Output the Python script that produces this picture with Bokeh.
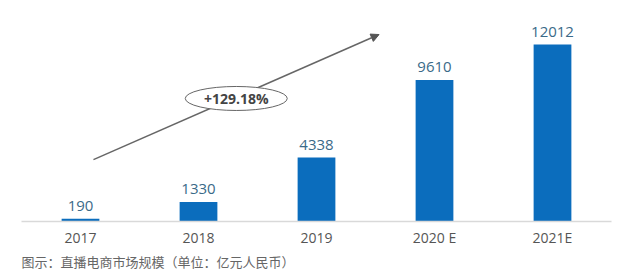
from bokeh.plotting import figure
from bokeh.models import ColumnDataSource, FactorRange, Range1d, Title, Arrow, NormalHead
from bokeh.core.properties import value
from bokeh.embed import file_html
from bokeh.resources import INLINE

categories = ["2017", "2018", "2019", "2020 E", "2021E"]
values = [190, 1330, 4338, 9610, 12012]
value_labels = ["190", "1330", "4338", "9610", "12012"]
growth_text = "+129.18%"
caption = "图示：直播电商市场规模（单位：亿元人民币）"

# annotation anchor positions (categorical synthetic coordinates / data values)
arrow_x0, arrow_y0, arrow_x1, arrow_y1 = 0.61, 4200, 3.03, 12690
badge_x, badge_y = 1.82, 8350

src = ColumnDataSource(dict(cat=categories, val=values, lab=value_labels))

p = figure(width=640, height=273, x_range=FactorRange(*categories, range_padding=0),
           y_range=Range1d(0, 15000), output_backend="svg", toolbar_location=None,
           min_border_left=21, min_border_right=29, min_border_top=0, min_border_bottom=52)
p.outline_line_color = None
p.grid.visible = False
p.yaxis.visible = False
p.background_fill_color = "white"
p.border_fill_color = "white"

xa = p.xaxis[0]
xa.axis_line_color = "#d9d9d9"
xa.axis_line_width = 1.5
xa.major_tick_line_color = None
xa.minor_tick_line_color = None
xa.major_tick_out = 0
xa.major_tick_in = 0
xa.major_label_text_font = "Open Sans"
xa.major_label_text_font_size = "14px"
xa.major_label_text_color = "#555555"
xa.major_label_standoff = 6

p.vbar(x="cat", top="val", width=0.32, source=src, fill_color="#0b6dbd", line_color=None)
p.text(x="cat", y="val", text="lab", source=src, text_align="center", text_baseline="bottom",
       y_offset=-8, text_font=value("Open Sans"), text_font_size="15px", text_color="#3a6a88")

arrow = Arrow(x_start=arrow_x0, y_start=arrow_y0, x_end=arrow_x1, y_end=arrow_y1,
              line_color="#666666", line_width=1.5, level="underlay",
              end=NormalHead(size=8, fill_color="#555555", line_color="#555555"))
p.add_layout(arrow)

p.ellipse(x=[badge_x], y=[badge_y], width=102, height=24, width_units="screen",
          height_units="screen", fill_color="white", line_color="#666666", line_width=1)
p.text(x=[badge_x], y=[badge_y], text=[growth_text], text_align="center", text_baseline="middle",
       text_font=value("Open Sans"), text_font_style="bold", text_font_size="14px",
       text_color="#444444")

p.add_layout(Title(text=caption, align="left", offset=0, standoff=0,
                   text_font="Noto Sans CJK SC", text_font_size="13px",
                   text_font_style="normal", text_color="#666666"), "below")

open("out.html", "w").write(file_html(p, INLINE))
